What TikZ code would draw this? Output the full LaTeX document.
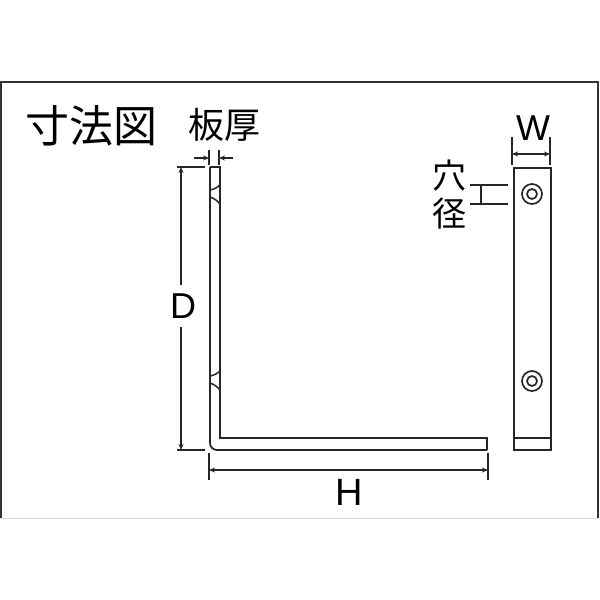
\documentclass[tikz,border=0pt]{standalone}
\usepackage{fontspec}
\setmainfont{Liberation Sans}
\newfontfamily\cjk{Noto Sans CJK JP}
\usetikzlibrary{arrows.meta}
\tikzset{
  outline/.style={line width=1.7pt,black!85},
  frameline/.style={line width=2pt,black!80},
  dimline/.style={line width=1.5pt,black!85},
  dimarrow/.style={dimline,-{Stealth[length=6pt,width=5pt]}},
  bothends/.style={dimline,{Stealth[length=6pt,width=5pt]}-{Stealth[length=6pt,width=5pt]}},
  biglabel/.style={inner sep=0pt,font=\cjk\fontsize{36}{36}\selectfont},
  holelabel/.style={inner sep=0pt,font=\cjk\fontsize{34}{34}\selectfont},
  latinlabel/.style={inner sep=0pt,font=\fontsize{36}{36}\selectfont}
}
\begin{document}
\begin{tikzpicture}[x=1pt,y=-1pt]
  \useasboundingbox (0,0) rectangle (600,600);
  % frame
  \path
    (1,518) coordinate (fbl)
    (1,82) coordinate (ftl)
    (598,82) coordinate (ftr)
    (598,518) coordinate (fbr);
  \draw[line width=0.8pt,black!15] (fbl) -- (fbr);
  \draw[frameline] (fbl) -- (ftl) -- (ftr) -- (fbr);
  % labels
  \node[biglabel,font=\cjk\fontsize{44}{44}\selectfont] (title) at (91,126) {寸法図};
  \node[biglabel] (thick) at (224,125) {板厚};
  \node[latinlabel] (w) at (533,128) {W};
  \node[latinlabel] (d) at (183,306) {D};
  \node[latinlabel,font=\fontsize{38}{38}\selectfont] (h) at (349,492) {H};
  \node[holelabel] (hole1) at (449,176) {穴};
  \node[holelabel] (hole2) at (449,214) {径};
  % bracket side view
  \path
    (210,167) coordinate (a1)
    (220,167) coordinate (a2)
    (220,438) coordinate (a3)
    (487,438) coordinate (a4)
    (487,450) coordinate (a5)
    (210,450) coordinate (a6);
  \draw[outline,rounded corners=7pt] (a1) -- (a6) -- (a5);
  \draw[outline] (a1) -- (a2) -- (a3) -- (a4) -- (a5);
  \begin{scope}[outline,line width=1.5pt]
    \draw (220,185) to[bend left=15] (210,190);
    \draw (210,197) to[bend left=15] (220,204);
    \draw (220,371) to[bend left=15] (210,376);
    \draw (210,383) to[bend left=15] (220,390);
  \end{scope}
  % bracket front view
  \path
    (514,168) coordinate (b1)
    (551,168) coordinate (b2)
    (551,450) coordinate (b3)
    (514,450) coordinate (b4)
    (514,438) coordinate (b5)
    (551,438) coordinate (b6);
  \draw[outline] (b1) -- (b2) -- (b3) -- (b4) -- cycle;
  \draw[outline] (b5) -- (b6);
  \foreach \cy/\nm in {194/top,381/bot} {
    \node[draw,outline,circle,minimum size=20pt,inner sep=0pt] (ho\nm) at (532,\cy) {};
    \node[draw,outline,circle,minimum size=10pt,inner sep=0pt] (hi\nm) at (532,\cy) {};
  }
  % dimensions
  \path
    (177,167) coordinate (d1) (205,167) coordinate (d2)
    (177,450) coordinate (d3) (205,450) coordinate (d4)
    (181,167) coordinate (d5) (181,450) coordinate (d6)
    (181,285) coordinate (d7) (181,327) coordinate (d8)
    (209,453) coordinate (h1) (209,480) coordinate (h2)
    (488,453) coordinate (h3) (488,480) coordinate (h4)
    (209,470) coordinate (h5) (488,470) coordinate (h6)
    (209,150) coordinate (t1) (209,165) coordinate (t2)
    (219,150) coordinate (t3) (219,165) coordinate (t4)
    (194,158) coordinate (t5) (209,158) coordinate (t6)
    (233,158) coordinate (t7) (219,158) coordinate (t8)
    (512,137) coordinate (w1) (512,165) coordinate (w2)
    (550,137) coordinate (w3) (550,165) coordinate (w4)
    (512,154) coordinate (w5) (550,154) coordinate (w6)
    (470,185) coordinate (p1) (508,185) coordinate (p2)
    (470,204) coordinate (p3) (508,204) coordinate (p4)
    (481,185) coordinate (p5) (481,204) coordinate (p6);
  \begin{scope}[dimline]
    \draw (d1) to (d2);
    \draw (d3) to (d4);
    \draw (h1) to (h2);
    \draw (h3) to (h4);
    \draw (t1) to (t2);
    \draw (t3) to (t4);
    \draw (w1) to (w2);
    \draw (w3) to (w4);
    \draw (p1) to (p2);
    \draw (p3) to (p4);
    \draw (p5) to (p6);
  \end{scope}
  \begin{scope}[dimarrow]
    \draw (d7) to (d5);
    \draw (d8) to (d6);
    \draw (t5) to (t6);
    \draw (t7) to (t8);
  \end{scope}
  \draw[bothends] (h5) to (h6);
  \draw[bothends] (w5) to (w6);
\end{tikzpicture}
\end{document}
